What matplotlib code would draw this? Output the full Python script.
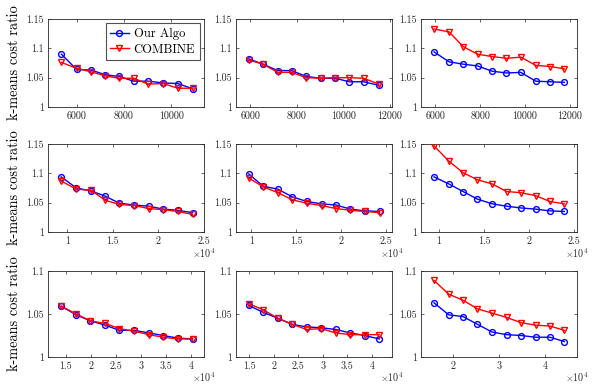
import matplotlib
matplotlib.use("Agg")
import matplotlib.pyplot as plt

plt.rcParams['font.family'] = ['cmr10', 'DejaVu Serif']
plt.rcParams['mathtext.fontset'] = 'cm'
plt.rcParams['axes.formatter.use_mathtext'] = True

GRAY = '#262626'

# ---------------- data ----------------
# Row 1
x11 = [5360, 6000, 6610, 7210, 7800, 8410, 9020, 9650, 10270, 10900]
ours11 = [1.090, 1.064, 1.063, 1.055, 1.052, 1.044, 1.044, 1.041, 1.040, 1.031]
comb11 = [1.076, 1.066, 1.060, 1.053, 1.049, 1.049, 1.039, 1.040, 1.032, 1.032]

x12 = [5930, 6550, 7180, 7780, 8410, 9040, 9660, 10260, 10880, 11530]
ours12 = [1.082, 1.073, 1.062, 1.062, 1.052, 1.049, 1.049, 1.043, 1.043, 1.037]
comb12 = [1.080, 1.073, 1.059, 1.059, 1.050, 1.049, 1.050, 1.050, 1.049, 1.039]

x13 = [5940, 6610, 7240, 7880, 8530, 9170, 9810, 10470, 11110, 11750]
ours13 = [1.094, 1.077, 1.073, 1.070, 1.061, 1.058, 1.059, 1.044, 1.043, 1.042]
comb13 = [1.133, 1.128, 1.103, 1.090, 1.086, 1.083, 1.085, 1.071, 1.069, 1.065]

# Row 2
x21 = [9330, 11000, 12630, 14190, 15740, 17370, 18960, 20560, 22150, 23780]
ours21 = [1.094, 1.075, 1.070, 1.061, 1.049, 1.046, 1.044, 1.039, 1.037, 1.033]
comb21 = [1.087, 1.073, 1.071, 1.054, 1.047, 1.045, 1.040, 1.038, 1.035, 1.030]

x22 = [9700, 11310, 12950, 14520, 16160, 17800, 19400, 21010, 22610, 24250]
ours22 = [1.099, 1.078, 1.073, 1.060, 1.052, 1.048, 1.046, 1.039, 1.036, 1.035]
comb22 = [1.092, 1.077, 1.067, 1.055, 1.049, 1.045, 1.040, 1.037, 1.035, 1.033]

x23 = [9440, 11070, 12670, 14260, 15890, 17480, 19070, 20700, 22300, 23890]
ours23 = [1.094, 1.082, 1.069, 1.056, 1.048, 1.044, 1.041, 1.039, 1.036, 1.035]
comb23 = [1.147, 1.121, 1.101, 1.089, 1.082, 1.069, 1.067, 1.062, 1.052, 1.048]

# Row 3
x31 = [14130, 17150, 19970, 22930, 25750, 28710, 31600, 34490, 37380, 40340]
ours31 = [1.059, 1.049, 1.042, 1.037, 1.031, 1.031, 1.028, 1.025, 1.022, 1.021]
comb31 = [1.059, 1.050, 1.042, 1.039, 1.033, 1.030, 1.026, 1.023, 1.021, 1.021]

x32 = [14860, 17800, 20810, 23740, 26680, 29690, 32620, 35560, 38500, 41500]
ours32 = [1.060, 1.052, 1.045, 1.038, 1.035, 1.034, 1.032, 1.028, 1.025, 1.021]
comb32 = [1.062, 1.055, 1.045, 1.038, 1.032, 1.033, 1.028, 1.026, 1.026, 1.026]

x33 = [15860, 19060, 22180, 25310, 28510, 31640, 34760, 37960, 41090, 44220]
ours33 = [1.063, 1.049, 1.047, 1.038, 1.029, 1.026, 1.025, 1.023, 1.023, 1.018]
comb33 = [1.089, 1.073, 1.066, 1.056, 1.051, 1.046, 1.040, 1.037, 1.036, 1.031]

series_names = ['Our Algo', 'COMBINE']
ylabel_text = 'k-means cost ratio'

xlims = [[(4795, 11376), (5383, 12100), (5360, 12312)],
         [(7889, 25037), (8284, 25634), (8000, 25296)],
         [(11505, 42620), (12268, 44098), (13018, 46982)]]

xticks = [[[6000, 8000, 10000], [6000, 8000, 10000, 12000], [6000, 8000, 10000, 12000]],
          [[10000, 15000, 20000, 25000]] * 3,
          [[15000, 20000, 25000, 30000, 35000, 40000]] * 2 + [[20000, 30000, 40000]]]
xtick_labels = [[['6000', '8000', '10000'], ['6000', '8000', '10000', '12000'],
                 ['6000', '8000', '10000', '12000']],
                [['1', '1.5', '2', '2.5']] * 3,
                [['1.5', '2', '2.5', '3', '3.5', '4']] * 2 + [['2', '3', '4']]]

yticks_top = [1, 1.05, 1.1, 1.15]
ytick_labels_top = ['1', '1.05', '1.1', '1.15']
yticks_bot = [1, 1.05, 1.1]
ytick_labels_bot = ['1', '1.05', '1.1']

data = [[(x11, ours11, comb11), (x12, ours12, comb12), (x13, ours13, comb13)],
        [(x21, ours21, comb21), (x22, ours22, comb22), (x23, ours23, comb23)],
        [(x31, ours31, comb31), (x32, ours32, comb32), (x33, ours33, comb33)]]

# ---------------- layout ----------------
W, H = 608, 389
fig = plt.figure(figsize=(W / 100, H / 100), dpi=100)

col_left = [48, 236, 421]
col_w = 156
row_top = [19, 144, 271]
row_h = [88, 88, 86]

for r in range(3):
    for c in range(3):
        l = col_left[c] / W
        b = 1 - (row_top[r] + row_h[r]) / H
        ax = fig.add_axes([l, b, col_w / W, row_h[r] / H])
        x, o, cb = data[r][c]
        ax.plot(x, o, '-o', color='blue', mfc='none', mec='blue', lw=1.0, ms=4.2,
                mew=1.0, label=series_names[0], zorder=3)
        ax.plot(x, cb, '-v', color='red', mfc='none', mec='red', lw=1.0, ms=4.8,
                mew=1.0, label=series_names[1], zorder=3)
        ax.set_xlim(*xlims[r][c])
        if r < 2:
            ax.set_ylim(1, 1.15)
            ax.set_yticks(yticks_top)
            ax.set_yticklabels(ytick_labels_top)
        else:
            ax.set_ylim(1, 1.1)
            ax.set_yticks(yticks_bot)
            ax.set_yticklabels(ytick_labels_bot)
        ax.set_xticks(xticks[r][c])
        ax.set_xticklabels(xtick_labels[r][c])
        ax.tick_params(direction='in', length=2.5, width=0.5, colors=GRAY,
                       labelsize=7.2, top=True, right=True, pad=3)
        for sp in ax.spines.values():
            sp.set_color(GRAY)
            sp.set_linewidth(0.6)
        if r >= 1:
            ax.text(1.0, -0.24, r'$\times10^{4}$', transform=ax.transAxes,
                    ha='center', va='center', fontsize=7.2, color=GRAY)
        if c == 0:
            ax.set_ylabel(ylabel_text, fontsize=10.3, color='black', labelpad=4)
        if r == 0 and c == 0:
            leg = ax.legend(loc='upper right', fontsize=9, frameon=True, fancybox=False,
                            handlelength=1.5, borderpad=0.35, labelspacing=0.3,
                            handletextpad=0.4, borderaxespad=0.35)
            leg.get_frame().set_edgecolor(GRAY)
            leg.get_frame().set_linewidth(0.8)

fig.savefig('out.png', dpi=100)
